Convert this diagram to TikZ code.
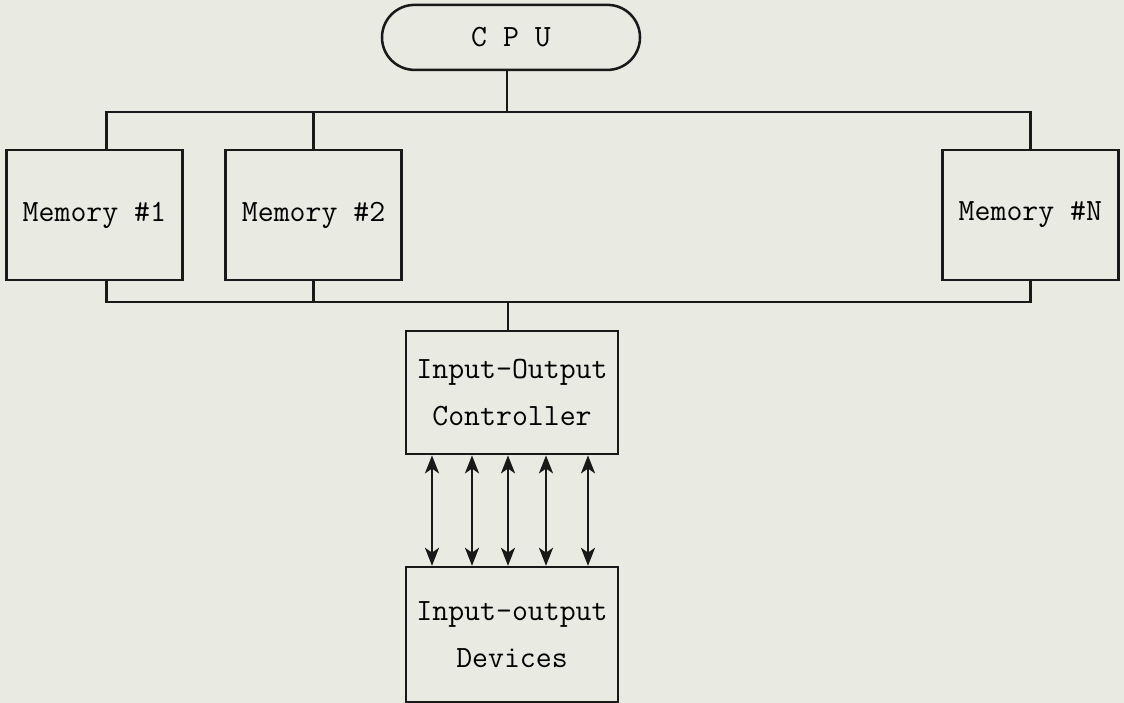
\documentclass[tikz,border=0pt]{standalone}
\usepackage{tikz}
\usetikzlibrary{shapes.misc, positioning, calc, arrows.meta}
\definecolor{paper}{RGB}{233,234,225}
\definecolor{ink}{RGB}{25,25,25}

\begin{document}
\begin{tikzpicture}[
  box/.style={draw=ink, line width=1.8pt, inner sep=0pt, align=center, font=\ttfamily\fontsize{22}{34}\selectfont},
  mem/.style={box, minimum width=4.4cm, minimum height=3.25cm},
  io/.style={box, minimum width=5.3cm},
  bus/.style={draw=ink, line width=1.8pt},
  iolink/.style={bus, {Stealth[length=4.5mm,width=3.5mm,inset=1.2mm]}-{Stealth[length=4.5mm,width=3.5mm,inset=1.2mm]}}]
\fill[paper] (0,0) rectangle (28.1,17.575);
\useasboundingbox (0,0) rectangle (28.1,17.575);
\node[box, rounded rectangle, minimum width=6.45cm, minimum height=1.625cm] (cpu) at (12.775,16.64) {C P U};
\node[mem] (m1) at (2.36,12.2) {Memory \#1};
\node[mem] (m2) at (7.84,12.2) {Memory \#2};
\node[mem] (mN) at (25.76,12.2) {Memory \#N};
\node[io, minimum height=3.075cm] (ctrl) at (12.8,7.76) {Input-Output\\Controller};
\node[io, minimum height=3.375cm] (dev) at (12.8,1.71) {Input-output\\Devices};
\coordinate (tbus) at (0,14.775);
\coordinate (bbus) at (0,10.025);
\draw[bus] ([xshift=3mm]m1.north) -- ([xshift=3mm]m1.north |- tbus) -- (mN.north |- tbus) -- (mN.north);
\draw[bus] (m2.north) -- (m2.north |- tbus);
\draw[bus] ([xshift=-1mm]cpu.south) -- ([xshift=-1mm]cpu.south |- tbus);
\draw[bus] ([xshift=3mm]m1.south) -- ([xshift=3mm]m1.south |- bbus) -- (mN.south |- bbus) -- (mN.south);
\draw[bus] (m2.south) -- (m2.south |- bbus);
\draw[bus] ([xshift=-1mm]ctrl.north) -- ([xshift=-1mm]ctrl.north |- bbus);
\foreach \dx in {-2.0, -1.0, -0.1, 0.85, 1.9}
	\draw[iolink] ([xshift=\dx cm]ctrl.south) -- ([xshift=\dx cm]dev.north);
\end{tikzpicture}
\end{document}
